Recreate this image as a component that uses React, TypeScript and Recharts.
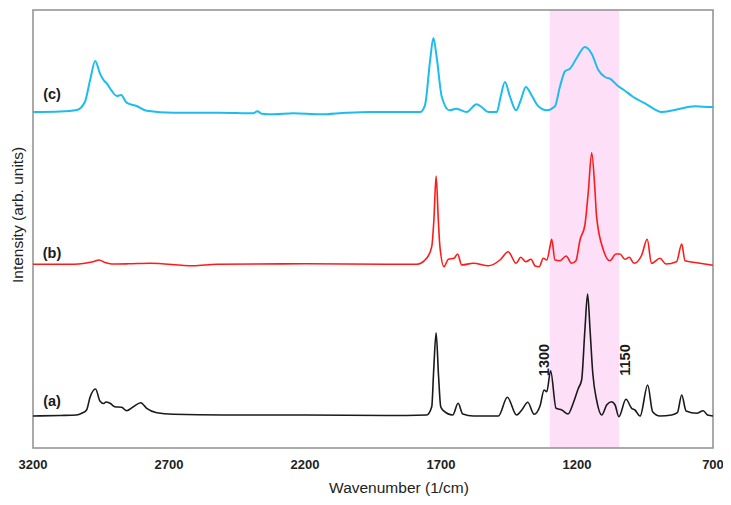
import React from 'react';
import { ComposedChart, Line, XAxis, YAxis, ReferenceArea, ReferenceDot } from 'recharts';

const FONT = '"Liberation Sans", Arial, sans-serif';

const X_TICKS = [3200, 2700, 2200, 1700, 1200, 700];

// Offsets (arb. units) used to stack the spectra
const OFFSET_A = 32;
const OFFSET_B = 183.7;
const OFFSET_C = 336;

// (a) black spectrum
const waveA = [3200, 3100, 3040, 3021, 3003, 2990, 2970, 2954, 2940, 2932, 2917, 2899, 2874, 2856, 2831, 2804, 2782, 2745, 2684, 2500, 2200, 1900, 1753, 1734, 1727, 1718, 1709, 1701, 1691, 1657, 1637, 1620, 1581, 1489, 1456, 1422, 1403, 1381, 1358, 1336, 1321, 1311, 1297, 1277, 1256, 1233, 1214, 1195, 1183, 1171, 1161, 1152, 1142, 1128, 1109, 1091, 1073, 1060, 1046, 1020, 999, 987, 968, 940, 922, 895, 852, 831, 815, 799, 760, 736, 720, 700];
const intA = [0, 0.5, 1, 2.7, 6, 19, 27, 15, 12.5, 14, 12.7, 9.3, 8.7, 5.3, 9.3, 13.3, 7.7, 3.3, 1.7, 1, 1, 0.5, 1, 9.3, 45, 83.3, 40, 9.3, 5.3, 1, 12.7, 2, 0, 0, 18.7, 1, 6, 13.7, 1.7, 10, 26, 24.3, 45.3, 7.7, 6, 2, 12.7, 27.7, 36, 86, 122, 86, 42.7, 16, 1, 11, 14.3, 11, -0.7, 16.7, 7.7, 6, 0, 31, 4.3, 0, 1, 3.3, 21, 5, 2.7, 5.3, 1, 0];

// (b) red spectrum
const waveB = [3200, 3050, 3009, 2980, 2957, 2935, 2911, 2850, 2770, 2611, 2525, 2200, 1900, 1789, 1753, 1734, 1726, 1718, 1710, 1704, 1689, 1673, 1652, 1639, 1624, 1581, 1526, 1483, 1453, 1424, 1407, 1388, 1369, 1354, 1339, 1324, 1311, 1299, 1293, 1281, 1262, 1240, 1220, 1204, 1189, 1171, 1158, 1146, 1134, 1128, 1103, 1079, 1057, 1042, 1024, 1008, 990, 962, 942, 926, 895, 873, 834, 815, 803, 760, 700];
const intB = [0, 0, 1, 2.5, 4.3, 1.7, 0.3, 0.5, 1, -1.5, 0, 0.5, 0, 0, 6, 17.7, 45, 88.3, 45, 17.7, -2.3, 5, 6, 10.3, -0.7, 1, -1.4, 4.3, 12.6, 1, 7, 2.6, 5, -1.7, -2.4, 6, 4.3, 18, 25, 4.3, 3.6, 8.3, 1, 3.6, 24.3, 39.3, 74, 111.6, 74, 47.6, 14.3, 3.6, 10.3, 10.3, 5, 7, 1, 9.3, 25, 1, 6, 0.3, 2.6, 20.3, 3.6, 1.6, -1];

// (c) blue spectrum
const waveC = [3200, 3100, 3039, 3009, 2990, 2971, 2954, 2939, 2929, 2911, 2892, 2876, 2856, 2819, 2782, 2684, 2512, 2390, 2375, 2359, 2317, 2243, 2145, 2047, 1961, 1850, 1777, 1759, 1740, 1728, 1716, 1697, 1669, 1643, 1606, 1569, 1551, 1526, 1495, 1481, 1465, 1446, 1424, 1407, 1388, 1367, 1342, 1311, 1281, 1263, 1244, 1226, 1199, 1171, 1146, 1121, 1097, 1079, 1048, 1029, 993, 944, 889, 846, 766, 705, 700];
const intC = [0, 0.5, 2, 10.3, 32, 51, 38.7, 31.3, 28.7, 21.3, 16, 17, 9.3, 6, 1.3, -0.7, -0.7, -1.3, 0.7, -1.7, -2.3, -1.3, -2.3, -0.7, 0, 0, 0, 6.7, 51.7, 74, 55, 15, 1.7, 3.3, 0, 7.7, 5, 0, 0, 15, 30, 15, 1.7, 11.7, 25, 16.7, 5.7, 1.7, 5.7, 25, 40.7, 43.3, 55, 65, 58.3, 41.7, 35, 33.3, 25.7, 22.3, 15, 7.7, 0, 1.7, 5.7, 5, 5];

const BAND = [1300, 1045];
const PEAK_MARKS = ['1300', '1150'];
const PEAK_MARK_POS = [1321, 1024];
const SERIES_LABELS = ['(a)', '(b)', '(c)'];

const build = (w: number[], h: number[], off: number) => w.map((x, i) => ({ x, y: off + h[i] }));

const dataA = build(waveA, intA, OFFSET_A);
const dataB = build(waveB, intB, OFFSET_B);
const dataC = build(waveC, intC, OFFSET_C);

const labelStyle = { fontFamily: FONT, fontSize: 14.5, fontWeight: 'bold', fill: '#1a1a1a' } as any;

export default function App() {
  const labelYs = [OFFSET_A + 15, OFFSET_B + 11, OFFSET_C + 18];
  return (
    <div style={{ width: 723, height: 497 }}>
      <ComposedChart width={723} height={497} margin={{ top: 2, right: 18, bottom: 0, left: 0 }}>
        <XAxis
          type="number"
          dataKey="x"
          domain={[700, 3200]}
          reversed
          ticks={X_TICKS}
          interval={0}
          allowDataOverflow
          axisLine={false}
          tickLine={false}
          tickMargin={6}
          height={57}
          tick={{ fontFamily: FONT, fontSize: 13, fontWeight: 'bold', fill: '#222' }}
          label={{ value: 'Wavenumber (1/cm)', position: 'insideBottom', offset: 12, dx: 26, style: { fontFamily: FONT, fontSize: 15.5, fill: '#222' } }}
        />
        <YAxis
          type="number"
          domain={[0, 438]}
          allowDataOverflow
          width={25}
          tick={false}
          axisLine={false}
          tickLine={false}
          label={{ value: 'Intensity (arb. units)', angle: -90, position: 'center', dx: -3, dy: -14, style: { fontFamily: FONT, fontSize: 15.5, fill: '#222' } }}
        />
        <ReferenceArea x1={BAND[0]} x2={BAND[1]} y1={0} y2={438} fill="#fde0f7" fillOpacity={1} stroke="none" />
        <Line data={dataC} dataKey="y" type="monotone" stroke="#1dbcef" strokeWidth={2} dot={false} isAnimationActive={false} />
        <Line data={dataB} dataKey="y" type="monotone" stroke="#ff1a1a" strokeWidth={1.6} dot={false} isAnimationActive={false} />
        <Line data={dataA} dataKey="y" type="monotone" stroke="#1a1a1a" strokeWidth={1.6} dot={false} isAnimationActive={false} />
        {SERIES_LABELS.map((s, i) => (
          <ReferenceDot key={s} x={3130} y={labelYs[i]} r={0} fill="none" stroke="none"
            label={{ value: s, position: 'center', style: labelStyle }} />
        ))}
        {PEAK_MARKS.map((s, i) => (
          <ReferenceDot key={s} x={PEAK_MARK_POS[i]} y={88} r={0} fill="none" stroke="none"
            label={{ value: s, position: 'center', angle: -90, style: labelStyle }} />
        ))}
        <ReferenceArea x1={3200} x2={700} y1={0} y2={438} fill="none" stroke="#8f8f8f" strokeWidth={1.5} />
      </ComposedChart>
    </div>
  );
}
